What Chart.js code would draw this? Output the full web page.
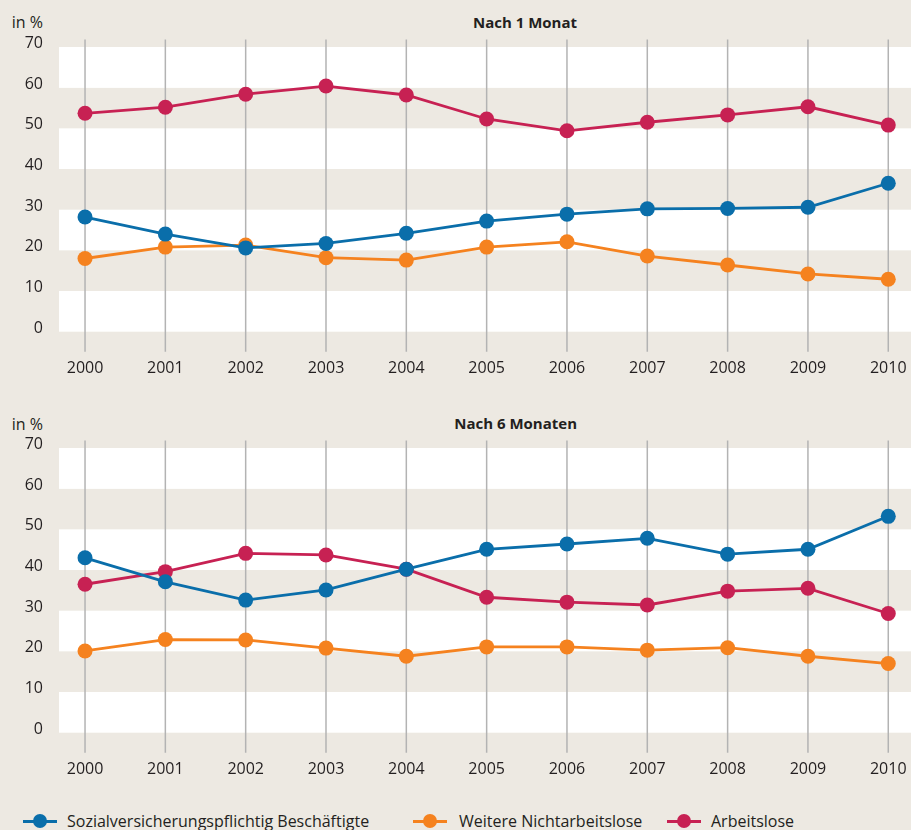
<!DOCTYPE html>
<html>
<head>
<meta charset="utf-8">
<script src="https://cdn.jsdelivr.net/npm/chart.js@4.4.1/dist/chart.umd.min.js"></script>
<style>
  html, body { margin: 0; padding: 0; background: #ede9e2; }
  #wrap { position: relative; width: 911px; height: 830px; background: #ede9e2; overflow: hidden;
          font-family: "Open Sans", "Noto Sans", sans-serif; color: #231f20; }
  canvas { position: absolute; left: 0; }
  .unit { position: absolute; left: 0; width: 43px; text-align: right; font-size: 16px; line-height: 20px; }
  .title { position: absolute; right: 334px; font-size: 15px; font-weight: bold; line-height: 20px; white-space: nowrap; }
  .leg { position: absolute; top: 811px; height: 20px; font-size: 16px; line-height: 20px; white-space: nowrap; }
  .leg .ln { position: absolute; top: 8.5px; width: 34px; height: 3px; }
  .leg .dot { position: absolute; top: 3px; width: 14px; height: 14px; border-radius: 50%; }
</style>
</head>
<body>
<div id="wrap">
  <div class="unit" style="top:12px">in %</div>
  <div class="title" style="top:12px">Nach 1 Monat</div>
  <div class="unit" style="top:414px">in %</div>
  <div class="title" style="top:413px">Nach 6 Monaten</div>
  <div style="position:absolute;left:0;top:0;width:911px;height:395px"><canvas id="c1" width="911" height="395" style="top:0"></canvas></div>
  <div style="position:absolute;left:0;top:401px;width:911px;height:395px"><canvas id="c2" width="911" height="395" style="top:0"></canvas></div>
  <div id="legend"></div>
</div>
<script>
// ---- data ----
const years = [2000, 2001, 2002, 2003, 2004, 2005, 2006, 2007, 2008, 2009, 2010];
const yearLabels = ["2000", "2001", "2002", "2003", "2004", "2005", "2006", "2007", "2008", "2009", "2010"];
const yTicks = [0, 10, 20, 30, 40, 50, 60, 70];
const seriesNames = ["Sozialversicherungspflichtig Beschäftigte", "Weitere Nichtarbeitslose", "Arbeitslose"];
const titles = ["Nach 1 Monat", "Nach 6 Monaten"];

// Nach 1 Monat
const m1Beschaeftigte = [28.2, 24.0, 20.6, 21.7, 24.2, 27.2, 28.9, 30.2, 30.3, 30.6, 36.5];
const m1Weitere       = [18.0, 20.8, 21.3, 18.2, 17.6, 20.8, 22.1, 18.6, 16.4, 14.2, 12.9];
const m1Arbeitslose   = [53.7, 55.2, 58.4, 60.4, 58.2, 52.3, 49.4, 51.5, 53.3, 55.3, 50.8];

// Nach 6 Monaten
const m6Beschaeftigte = [43.0, 37.1, 32.6, 35.1, 40.2, 45.1, 46.4, 47.8, 43.9, 45.1, 53.2];
const m6Weitere       = [20.1, 22.9, 22.8, 20.8, 18.8, 21.1, 21.1, 20.3, 20.9, 18.8, 17.0];
const m6Arbeitslose   = [36.5, 39.6, 44.1, 43.7, 40.2, 33.3, 32.1, 31.4, 34.8, 35.5, 29.3];

// ---- styles ----
const colors = ["#0a6eaa", "#f5821f", "#c72153"];
const GRID = "#b3b3b3";
const TEXT = "#231f20";

const bandPlugin = {
  id: 'bands',
  beforeDatasetsDraw(chart) {
    const { ctx, chartArea } = chart;
    const xs = chart.scales.x, ys = chart.scales.y;
    ctx.save();
    ctx.fillStyle = "#ffffff";
    for (let v = 0; v < 70; v += 20) {
      const yTop = ys.getPixelForValue(v + 10);
      const yBot = ys.getPixelForValue(v);
      ctx.fillRect(chartArea.left, yTop, chart.width - chartArea.left, yBot - yTop);
    }
    const yTop70 = ys.getPixelForValue(70), yBot60 = ys.getPixelForValue(60);
    ctx.fillRect(chartArea.left, yTop70, chart.width - chartArea.left, yBot60 - yTop70);
    ctx.strokeStyle = GRID;
    ctx.lineWidth = 1.5;
    years.forEach(yr => {
      const x = xs.getPixelForValue(yr);
      ctx.beginPath();
      ctx.moveTo(x, chartArea.top - 7.5);
      ctx.lineTo(x, chartArea.bottom + 20);
      ctx.stroke();
    });
    ctx.restore();
  }
};

function makeChart(id, values) {
  const datasets = values.map((vals, i) => ({
    label: seriesNames[i],
    data: years.map((yr, j) => ({ x: yr, y: vals[j] })),
    borderColor: colors[i],
    backgroundColor: colors[i],
    pointBackgroundColor: colors[i],
    pointBorderWidth: 0,
    pointRadius: 7.5,
    pointHoverRadius: 7.5,
    borderWidth: 2.8,
    tension: 0,
    clip: false
  }));
  return new Chart(document.getElementById(id), {
    type: 'line',
    data: { datasets },
    options: {
      responsive: false,
      animation: false,
      events: [],
      layout: { autoPadding: false, padding: { top: 47, left: 0, right: 0, bottom: 0 } },
      plugins: { legend: { display: false }, title: { display: false }, tooltip: { enabled: false } },
      scales: {
        x: {
          type: 'linear',
          min: 1999.676,
          max: 2010.283,
          grid: { display: false, drawTicks: false },
          border: { display: false },
          afterFit: s => { s.height = 63.3; s.paddingLeft = 0; s.paddingRight = 0; },
          afterBuildTicks: s => { s.ticks = years.map(v => ({ value: v })); },
          ticks: {
            includeBounds: false,
            stepSize: 1,
            padding: 27,
            color: TEXT,
            font: { family: "'Open Sans', 'Noto Sans', sans-serif", size: 16 },
            maxRotation: 0,
            autoSkip: false,
            callback: (v) => { const i = years.indexOf(v); return i >= 0 ? yearLabels[i] : ''; }
          }
        },
        y: {
          min: 0,
          max: 70,
          grid: { display: false, drawTicks: false },
          border: { display: false },
          afterFit: s => { s.width = 59; s.paddingTop = 0; s.paddingBottom = 0; },
          afterBuildTicks: s => { s.ticks = yTicks.map(v => ({ value: v })); },
          ticks: {
            padding: 16,
            labelOffset: -3.5,
            color: TEXT,
            font: { family: "'Open Sans', 'Noto Sans', sans-serif", size: 16 },
            callback: v => String(v)
          }
        }
      }
    },
    plugins: [bandPlugin]
  });
}

makeChart('c1', [m1Beschaeftigte, m1Weitere, m1Arbeitslose]);
makeChart('c2', [m6Beschaeftigte, m6Weitere, m6Arbeitslose]);

// ---- legend ----
const legendPos = [{ line: 23, text: 67 }, { line: 413, text: 459 }, { line: 667, text: 711 }];
const legend = document.getElementById('legend');
seriesNames.forEach((name, i) => {
  const item = document.createElement('div');
  item.className = 'leg';
  item.style.left = legendPos[i].line + 'px';
  item.innerHTML =
    '<span class="ln" style="left:0;background:' + colors[i] + '"></span>' +
    '<span class="dot" style="left:10px;background:' + colors[i] + '"></span>' +
    '<span style="position:absolute;left:' + (legendPos[i].text - legendPos[i].line) + 'px">' + name + '</span>';
  legend.appendChild(item);
});
</script>
</body>
</html>
